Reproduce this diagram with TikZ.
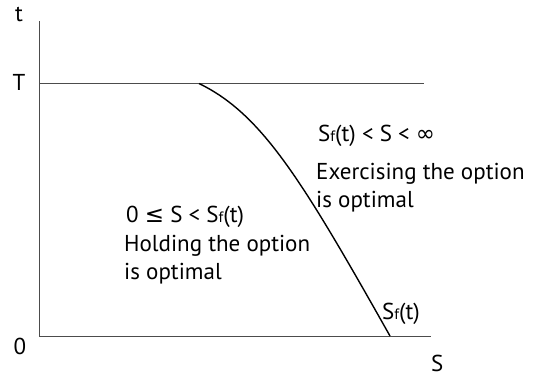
\documentclass[tikz,border=0pt]{standalone}
\usepackage{fontspec}
\setmainfont{PT Sans}
\newfontfamily\symfont{DejaVu Sans}
\begin{document}
\begin{tikzpicture}[x=1pt,y=-1pt,
  lbl/.style={inner sep=0pt,font=\fontsize{23}{28}\selectfont},
  txt/.style={lbl,anchor=base west},
  axisline/.style={draw=black!70,line width=1pt},
  curveline/.style={draw=black,line width=1.4pt}]
\useasboundingbox (0,0) rectangle (535,376);
\newcommand{\Sf}{S{\fontsize{15}{15}\selectfont f}(t)}
\coordinate (top) at (39,21);
\coordinate (orig) at (39,336);
\coordinate (tl) at (39,83.5);
\coordinate (tr) at (424,83.5);
\coordinate (br) at (431,336);
\coordinate (cs) at (199,83.5);
\coordinate (ce) at (390,336);
\draw[axisline] (top) -- (orig);
\draw[axisline] (tl) -- (tr);
\draw[axisline] (orig) -- (br);
\draw[curveline] (cs) .. controls (262,114) and (302,180) .. (ce);
\node[lbl] (tlab) at (19,14) {t};
\node[lbl] (Tlab) at (19,82) {T};
\node[lbl] (zlab) at (20,346) {0};
\node[txt] (Slab) at (431,371) {S};
\node[txt] (ex1) at (318,141) {\Sf{} < S < {\symfont ∞}};
\node[txt] (ex2) at (316,179) {Exercising the option};
\node[txt] (ex3) at (316,207) {is optimal};
\node[txt] (ho1) at (126,222) {0 {\symfont ≤} S < \Sf};
\node[txt] (ho2) at (124,251) {Holding the option};
\node[txt] (ho3) at (124,279) {is optimal};
\node[txt] (sf) at (382,319) {\Sf};
\end{tikzpicture}
\end{document}
